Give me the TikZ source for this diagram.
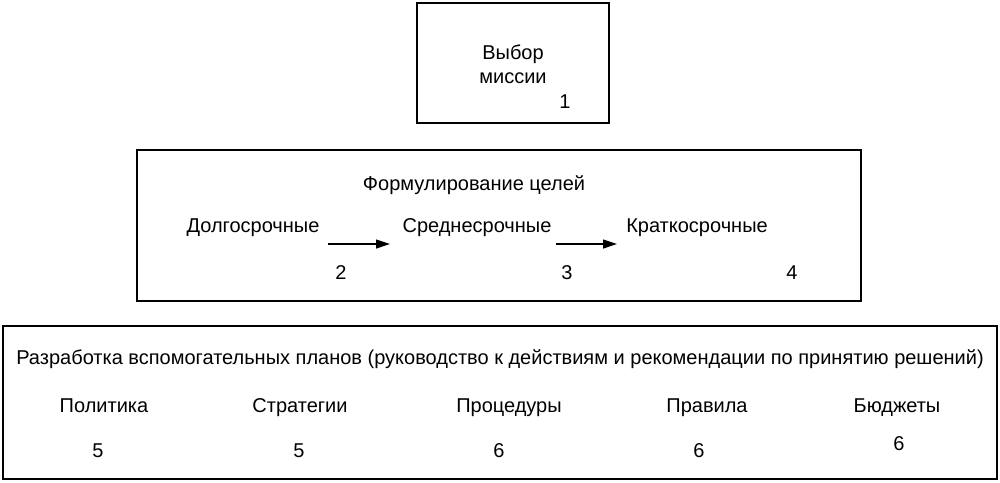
\documentclass[tikz,border=0pt]{standalone}
\usepackage{fontspec}
\setmainfont{Liberation Sans}
\usetikzlibrary{arrows.meta}
\begin{document}
\begin{tikzpicture}[x=1pt,y=-1pt,
  box/.style={draw,line width=1.2pt},
  lbl/.style={font=\fontsize{20}{24}\selectfont,inner sep=0pt,text height=14pt,text depth=0pt},
  arr/.style={line width=1.2pt,-{Triangle[length=14pt,width=9pt]}}]
\useasboundingbox (0,0) rectangle (1000,482);
\draw[box] (417,3) rectangle (609,123);
\draw[box] (137,150) rectangle (861,301);
\draw[box] (3,326) rectangle (997,479);
\node[lbl] (v1) at (513,52) {Выбор};
\node[lbl] (v2) at (513,76) {миссии};
\node[lbl] (n1) at (565,101) {1};
\node[lbl] (f) at (474,183) {Формулирование целей};
\node[lbl] (d) at (253,225) {Долгосрочные};
\node[lbl] (s) at (477,225) {Среднесрочные};
\node[lbl] (k) at (697,225) {Краткосрочные};
\coordinate (a1) at (328,244); \coordinate (a2) at (390,244);
\coordinate (b1) at (556,244); \coordinate (b2) at (617,244);
\draw[arr] (a1) -- (a2);
\draw[arr] (b1) -- (b2);
\node[lbl] (n2) at (341,272) {2};
\node[lbl] (n3) at (567,272) {3};
\node[lbl] (n4) at (792,272) {4};
\node[lbl] (t) at (500,357) {Разработка вспомогательных планов (руководство к действиям и рекомендации по принятию решений)};
\node[lbl] (p1) at (104,405) {Политика};
\node[lbl] (p2) at (300,405) {Стратегии};
\node[lbl] (p3) at (509,405) {Процедуры};
\node[lbl] (p4) at (707,405) {Правила};
\node[lbl] (p5) at (897,405) {Бюджеты};
\node[lbl] (m1) at (98,450) {5};
\node[lbl] (m2) at (299,450) {5};
\node[lbl] (m3) at (499,450) {6};
\node[lbl] (m4) at (699,450) {6};
\node[lbl] (m5) at (899,443) {6};
\end{tikzpicture}
\end{document}
